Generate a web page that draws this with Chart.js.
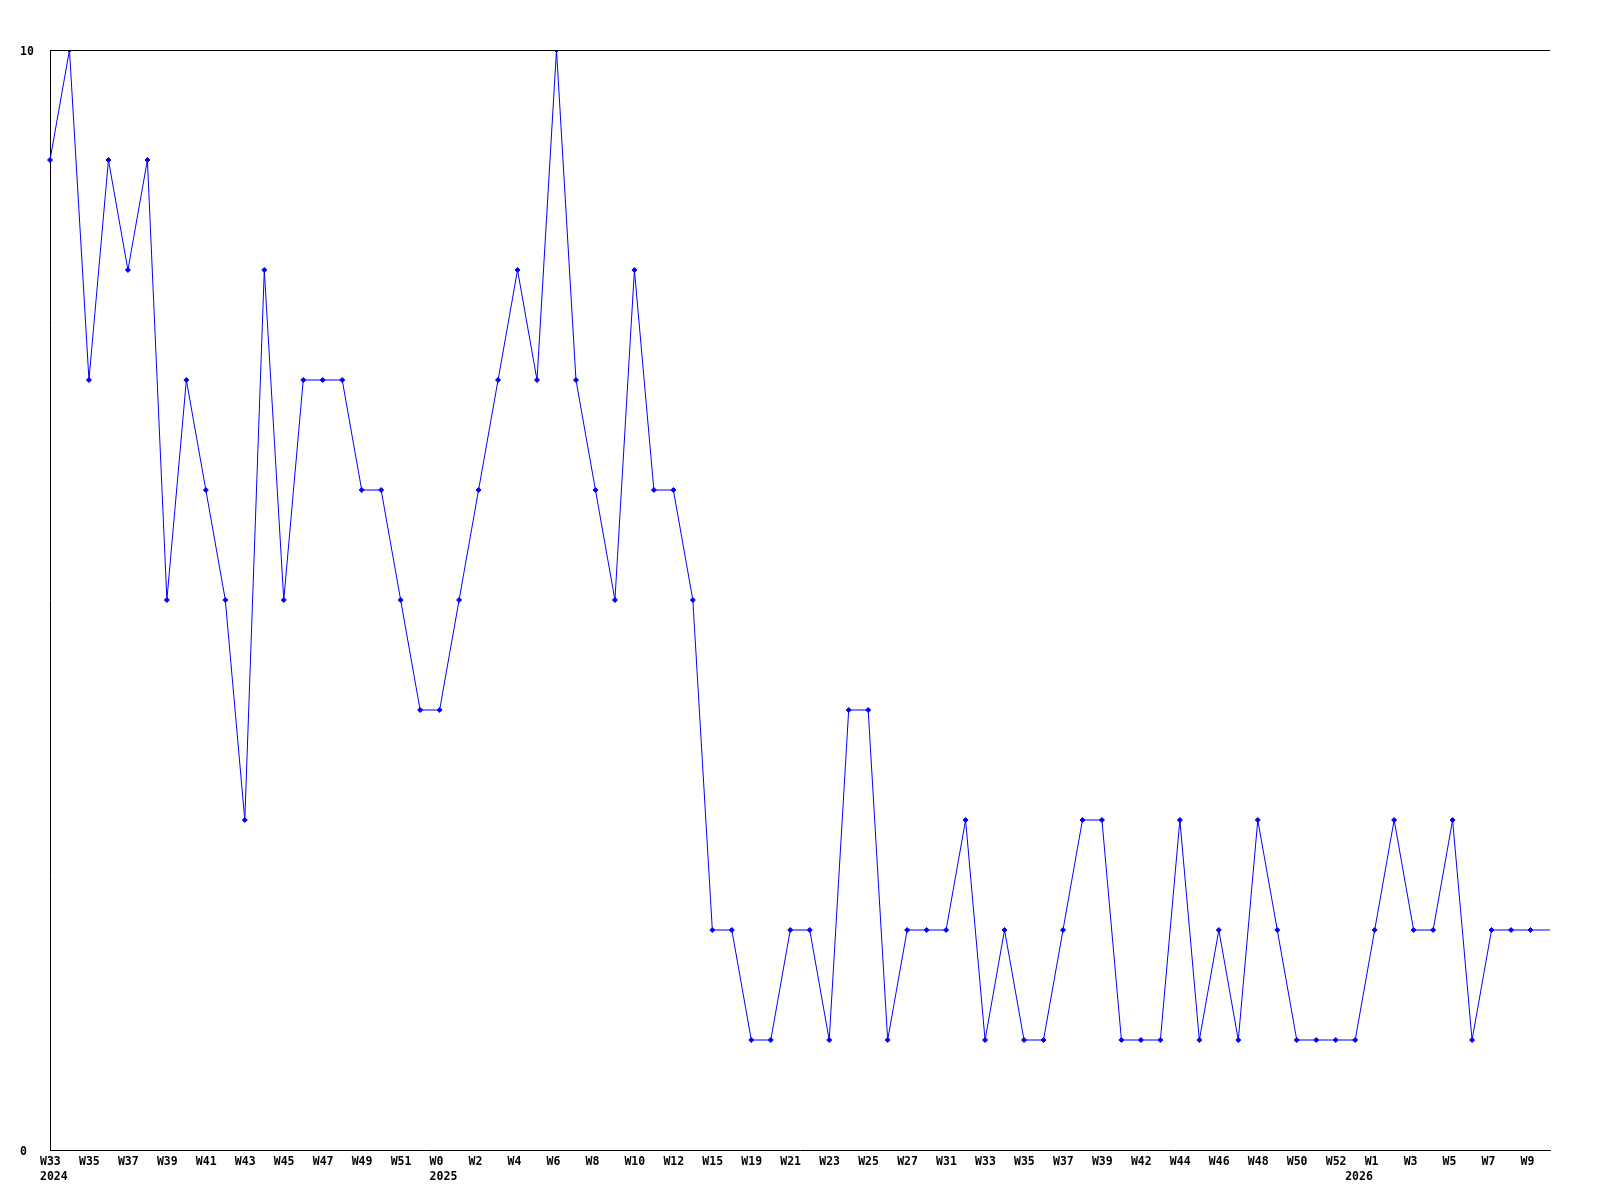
<!DOCTYPE html>
<html>
<head>
<meta charset="utf-8">
<script src="https://cdn.jsdelivr.net/npm/chart.js@4"></script>
<style>
html,body{margin:0;padding:0;background:#fff;}
#wrap{width:1600px;height:1200px;position:relative;}
</style>
</head>
<body>
<div id="wrap"><canvas id="c" width="1600" height="1200"></canvas></div>
<script>
const weeks = ['W33','W34','W35','W36','W37','W38','W39','W40','W41','W42','W43','W44','W45','W46','W47','W48','W49','W50','W51','W52',
  'W0','W1','W2','W3','W4','W5','W6','W7','W8','W9','W10','W11','W12','W13','W15','W17','W19','W20','W21','W22',
  'W23','W24','W25','W26','W27','W29','W31','W32','W33','W34','W35','W36','W37','W38','W39','W41','W42','W43','W44','W45',
  'W46','W47','W48','W49','W50','W51','W52','W0','W1','W2','W3','W4','W5','W6','W7','W8','W9','W10'];
const yearAt = [0, 20, 67];
const yearNames = ['2024', '2025', '2026'];
const values = [9,10,7,9,8,9,5,7,6,5,3,8,5,7,7,7,6,6,5,4,
  4,5,6,7,8,7,10,7,6,5,8,6,6,5,2,2,1,1,2,2,
  1,4,4,1,2,2,2,3,1,2,1,1,2,3,3,1,1,1,3,1,
  2,1,3,2,1,1,1,1,2,3,2,2,3,1,2,2,2,2];
const yTicks = [0, 10];

const FONT = {family: '"DejaVu Sans Mono", monospace', size: 11.5, weight: 'bold', lineHeight: 1.3};

const framePlugin = {
  id: 'frame',
  afterDraw(chart) {
    const a = chart.chartArea, ctx = chart.ctx;
    ctx.save();
    ctx.strokeStyle = '#000';
    ctx.lineWidth = 1;
    ctx.beginPath();
    ctx.moveTo(a.left, Math.round(a.top) + 0.5);
    ctx.lineTo(a.right, Math.round(a.top) + 0.5);
    ctx.stroke();
    ctx.restore();
  }
};

new Chart(document.getElementById('c'), {
  type: 'line',
  data: {
    labels: weeks,
    datasets: [{
      data: values,
      borderColor: '#0000ff',
      backgroundColor: '#0000ff',
      borderWidth: 1,
      tension: 0,
      pointStyle: 'rectRot',
      pointRadius: values.map((v, i) => i === values.length - 1 ? 0 : 2.5),
      pointBorderWidth: 1,
      fill: false
    }]
  },
  options: {
    responsive: false,
    animation: false,
    devicePixelRatio: 1,
    layout: {padding: {left: 20, right: 50, top: 50, bottom: 0}},
    plugins: {legend: {display: false}, tooltip: {enabled: false}},
    scales: {
      x: {
        type: 'category',
        offset: false,
        grid: {display: false, drawTicks: false},
        border: {display: true, color: '#000', width: 1},
        afterFit(s) { s.height = 50; },
        ticks: {
          autoSkip: false,
          maxRotation: 0,
          minRotation: 0,
          align: 'start',
          labelOffset: -10,
          padding: 5,
          color: '#000',
          font: FONT,
          callback(val, i) {
            const wk = i % 2 === 0 ? weeks[i] : '';
            const k = yearAt.indexOf(i);
            return k >= 0 ? [wk, yearNames[k]] : wk;
          }
        }
      },
      y: {
        min: 0,
        max: 10,
        afterFit(s) { s.width = 30; },
        afterBuildTicks(s) { s.ticks = yTicks.map(v => ({value: v})); },
        grid: {display: false, drawTicks: false},
        border: {display: true, color: '#000', width: 1},
        ticks: {
          crossAlign: 'far',
          labelOffset: 2,
          color: '#000',
          font: FONT
        }
      }
    }
  },
  plugins: [framePlugin]
});
</script>
</body>
</html>
